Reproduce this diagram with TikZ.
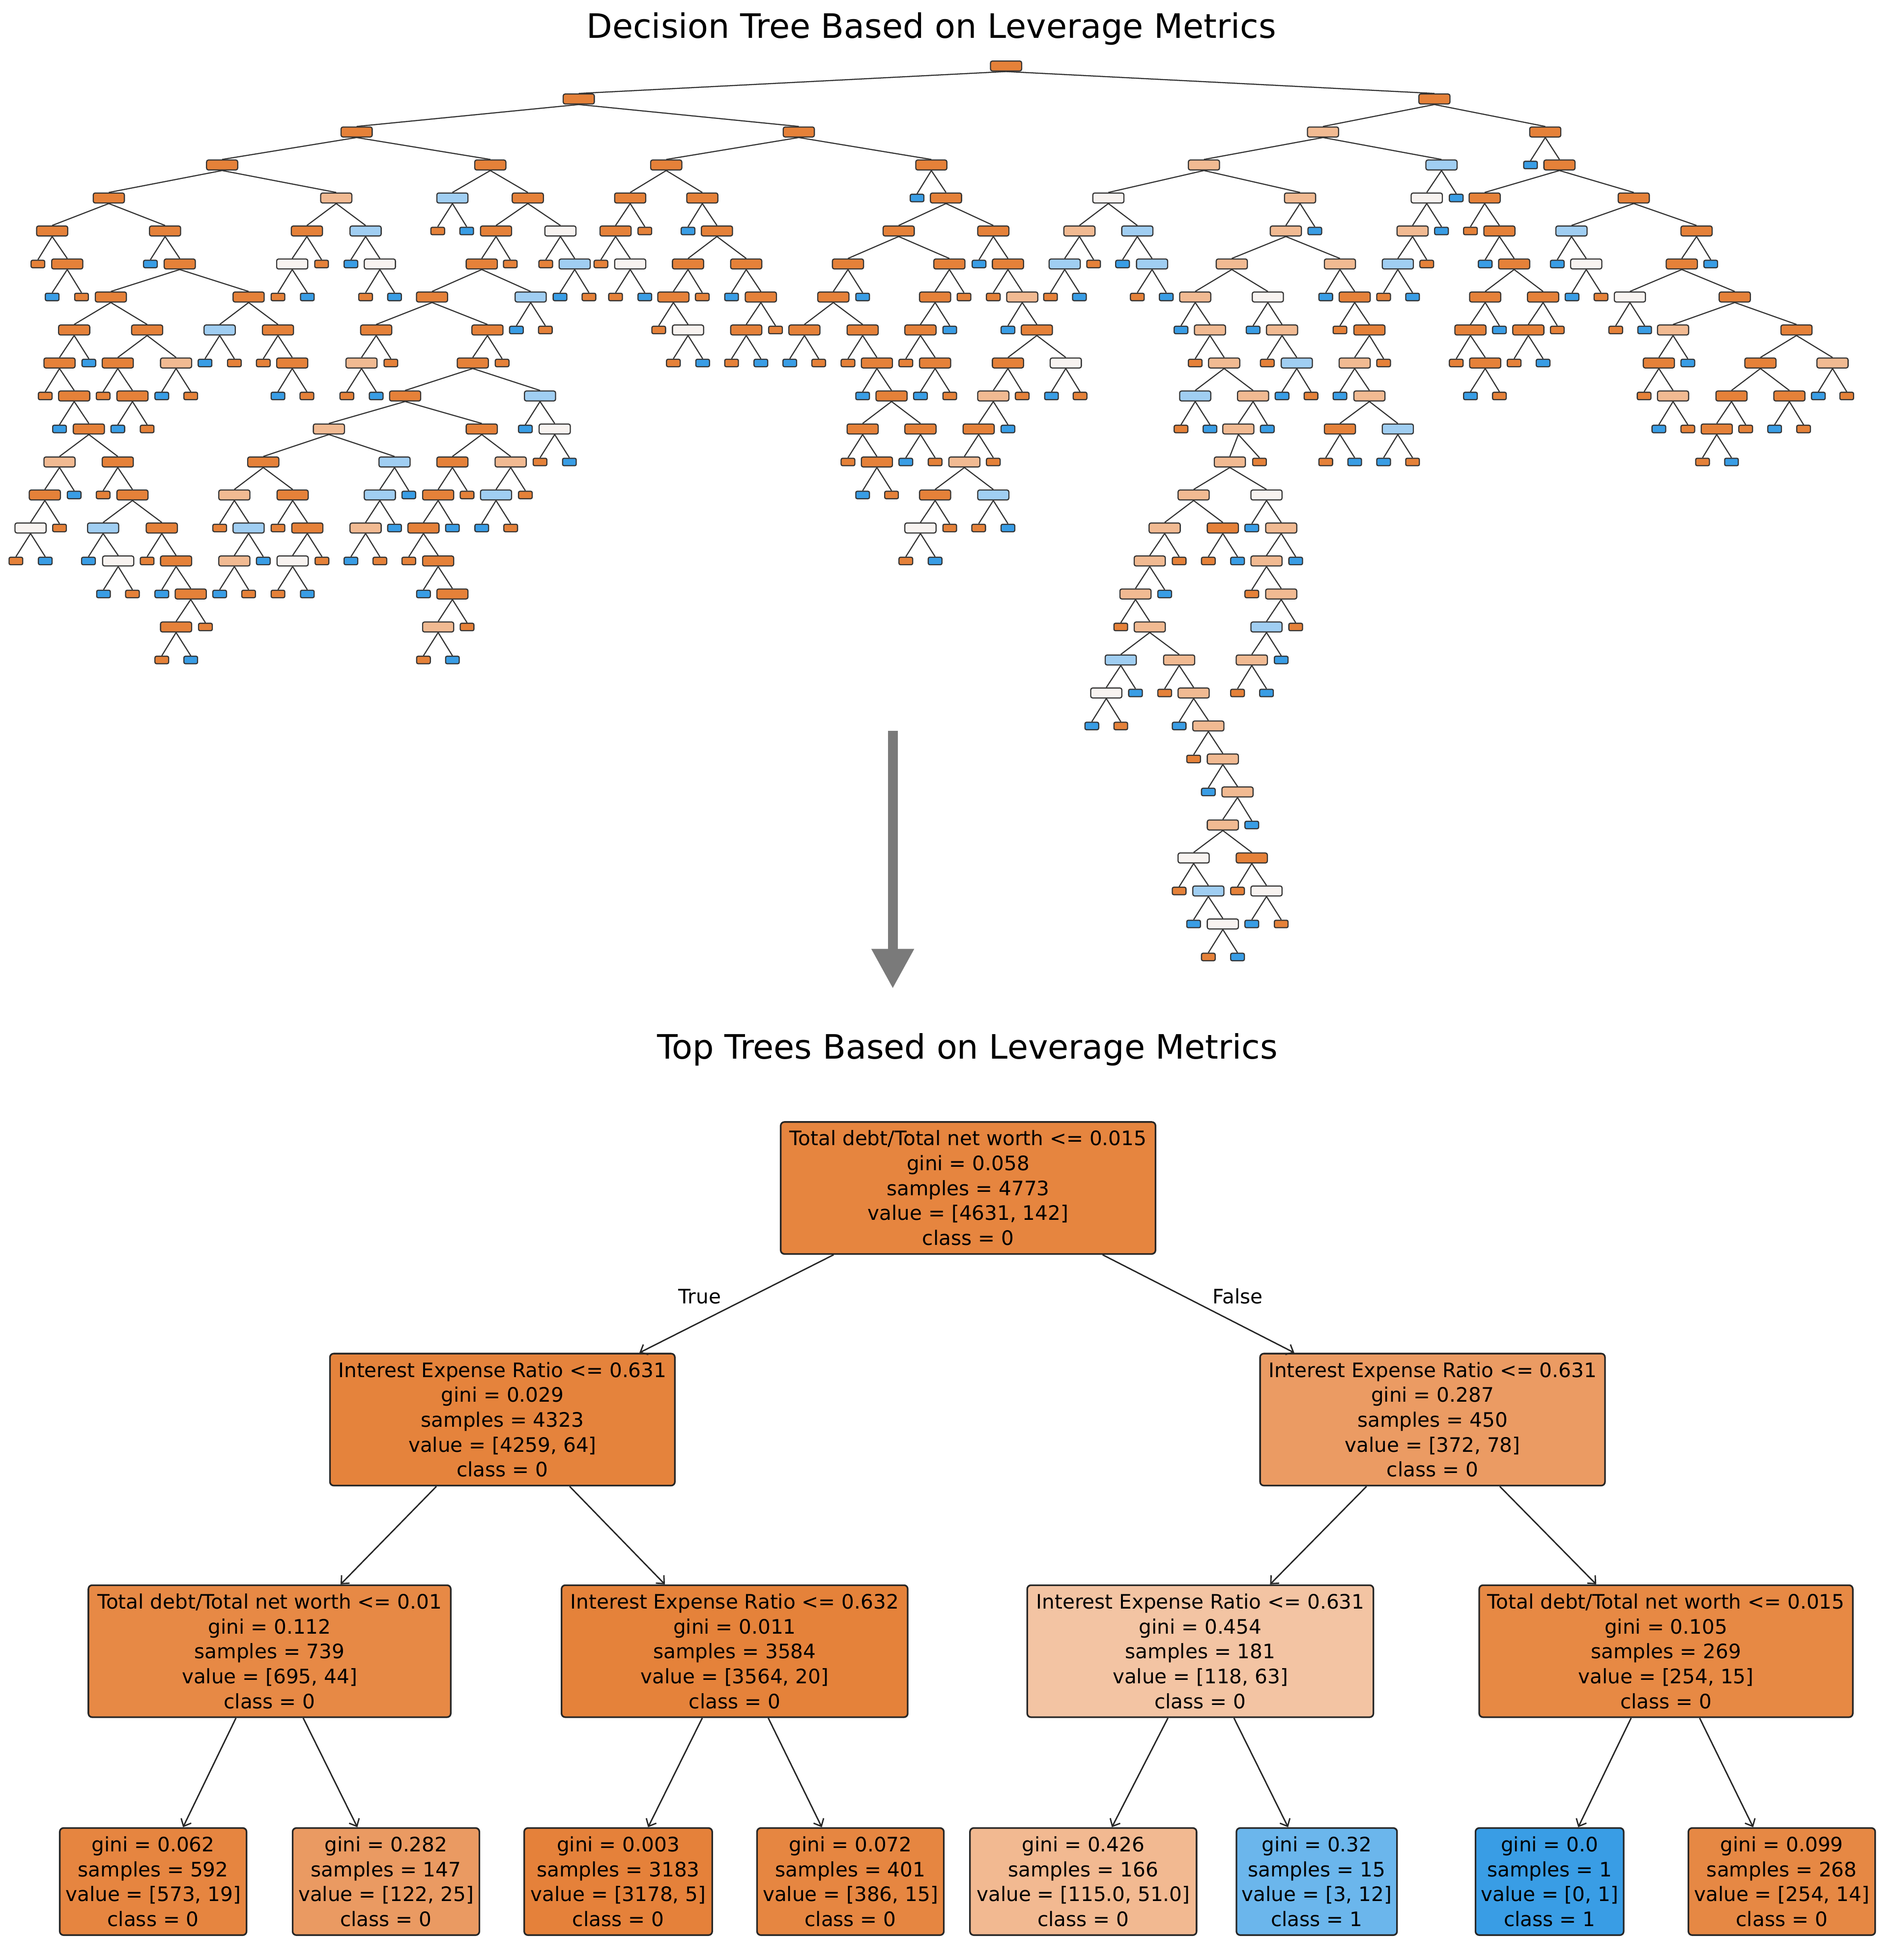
\documentclass[tikz,border=0pt]{standalone}
\usepackage{fontspec}
\setmainfont{DejaVu Sans}
\usetikzlibrary{arrows.meta}
\definecolor{tO}{RGB}{229,129,57}
\definecolor{tL}{RGB}{241,186,146}
\definecolor{tW}{RGB}{248,243,240}
\definecolor{tB}{RGB}{160,206,242}
\definecolor{tD}{RGB}{57,157,229}
\definecolor{cA}{RGB}{230,133,63}
\definecolor{cB}{RGB}{229,131,60}
\definecolor{cC}{RGB}{235,155,99}
\definecolor{cD}{RGB}{231,137,69}
\definecolor{cE}{RGB}{229,130,58}
\definecolor{cF}{RGB}{243,196,163}
\definecolor{cG}{RGB}{231,137,68}
\definecolor{cH}{RGB}{230,133,64}
\definecolor{cI}{RGB}{234,154,98}
\definecolor{cJ}{RGB}{229,129,58}
\definecolor{cK}{RGB}{230,134,65}
\definecolor{cM}{RGB}{242,185,145}
\definecolor{cN}{RGB}{107,182,236}
\definecolor{cP}{RGB}{57,157,229}
\definecolor{cQ}{RGB}{230,136,68}
\tikzset{
 i/.style={draw=black!80,line width=0.9pt,rounded corners=1.5pt,minimum width=25pt,minimum height=8pt,inner sep=0pt},
 l/.style={draw=black!80,line width=0.9pt,rounded corners=1.2pt,minimum width=11pt,minimum height=6pt,inner sep=0pt},
 te/.style={draw=black!80,line width=0.9pt},
 bn/.style={draw=black!85,line width=1.3pt,rounded corners=3pt,align=center,inner sep=0pt,font=\fontsize{16}{20}\selectfont},
 be/.style={draw=black!85,line width=1.1pt,-{Straight Barb[length=5pt,width=9pt]}},
 ttl/.style={font=\fontsize{27}{32}\selectfont},
 lab/.style={font=\fontsize{16}{18}\selectfont}
}
\newcommand\Za[5]{\node[#1,fill=t#5] (a#2x#3) at ({#3/3.055},{53+26.5*#2}) {};\draw[te] (#4.south) -- (a#2x#3.north);}
\newcommand\Zb[5]{\node[#1,fill=t#5] (b#2x#3) at ({463+(#3-103)/3.316},{53+26.5*#2}) {};\draw[te] (#4.south) -- (b#2x#3.north);}
\newcommand\Zc[5]{\node[#1,fill=t#5] (c#2x#3) at ({1152+(#3-745)/2.28},{53+26.5*#2}) {};\draw[te] (#4.south) -- (c#2x#3.north);}
\newcommand\Zd[5]{\node[#1,fill=t#5] (d#2x#3) at ({829.1+#3/5.674},{53+26.5*#2}) {};\draw[te] (#4.south) -- (d#2x#3.north);}
\begin{document}
\begin{tikzpicture}[x=1pt,y=-1pt]
\useasboundingbox (0,0) rectangle (1520,1574);
\node[ttl] (t1) at (748,23) {Decision Tree Based on Leverage Metrics};
\node[i,fill=tO] (root) at (808,53) {};
% zoom a
\Za{i}{1}{1420}{root}{O}
\Za{i}{2}{875}{a1x1420}{O}
\Za{i}{3}{545}{a2x875}{O}\Za{i}{3}{1203}{a2x875}{O}
\Za{i}{4}{267}{a3x545}{O}\Za{i}{4}{825}{a3x545}{L}\Za{i}{4}{1110}{a3x1203}{B}\Za{i}{4}{1295}{a3x1203}{O}
\Za{i}{5}{128}{a4x267}{O}\Za{i}{5}{405}{a4x267}{O}\Za{i}{5}{753}{a4x825}{O}\Za{i}{5}{897}{a4x825}{B}\Za{l}{5}{1074}{a4x1110}{O}\Za{l}{5}{1145}{a4x1110}{D}\Za{i}{5}{1217}{a4x1295}{O}\Za{i}{5}{1375}{a4x1295}{W}
\Za{l}{6}{93}{a5x128}{O}\Za{i}{6}{165}{a5x128}{O}\Za{l}{6}{369}{a5x405}{D}\Za{i}{6}{441}{a5x405}{O}\Za{i}{6}{717}{a5x753}{W}\Za{l}{6}{789}{a5x753}{O}\Za{l}{6}{861}{a5x897}{D}\Za{i}{6}{932}{a5x897}{W}\Za{i}{6}{1182}{a5x1217}{O}\Za{l}{6}{1252}{a5x1217}{O}\Za{l}{6}{1339}{a5x1375}{O}\Za{i}{6}{1410}{a5x1375}{B}
\Za{l}{7}{128}{a6x165}{D}\Za{l}{7}{200}{a6x165}{O}\Za{i}{7}{272}{a6x441}{O}\Za{i}{7}{610}{a6x441}{O}\Za{l}{7}{682}{a6x717}{O}\Za{l}{7}{754}{a6x717}{D}\Za{l}{7}{897}{a6x932}{O}\Za{l}{7}{968}{a6x932}{D}\Za{i}{7}{1060}{a6x1182}{O}\Za{i}{7}{1302}{a6x1182}{B}\Za{l}{7}{1374}{a6x1410}{D}\Za{l}{7}{1445}{a6x1410}{O}
\Za{i}{8}{182}{a7x272}{O}\Za{i}{8}{361}{a7x272}{O}\Za{i}{8}{539}{a7x610}{B}\Za{i}{8}{682}{a7x610}{O}\Za{i}{8}{923}{a7x1060}{O}\Za{i}{8}{1196}{a7x1060}{O}\Za{l}{8}{1267}{a7x1302}{D}\Za{l}{8}{1338}{a7x1302}{O}
\Za{i}{9}{146}{a8x182}{O}\Za{l}{9}{218}{a8x182}{D}\Za{i}{9}{289}{a8x361}{O}\Za{i}{9}{432}{a8x361}{L}\Za{l}{9}{503}{a8x539}{D}\Za{l}{9}{575}{a8x539}{O}\Za{l}{9}{646}{a8x682}{O}\Za{i}{9}{717}{a8x682}{O}\Za{i}{9}{887}{a8x923}{L}\Za{l}{9}{959}{a8x923}{O}\Za{i}{9}{1160}{a8x1196}{O}\Za{l}{9}{1232}{a8x1196}{O}
\Za{l}{10}{111}{a9x146}{O}\Za{i}{10}{182}{a9x146}{O}\Za{l}{10}{253}{a9x289}{O}\Za{i}{10}{325}{a9x289}{O}\Za{l}{10}{397}{a9x432}{D}\Za{l}{10}{468}{a9x432}{O}\Za{l}{10}{682}{a9x717}{D}\Za{l}{10}{753}{a9x717}{O}\Za{l}{10}{851}{a9x887}{O}\Za{l}{10}{923}{a9x887}{D}\Za{i}{10}{994}{a9x1160}{O}\Za{i}{10}{1325}{a9x1160}{B}
\Za{l}{11}{146}{a10x182}{D}\Za{i}{11}{218}{a10x182}{O}\Za{l}{11}{289}{a10x325}{D}\Za{l}{11}{361}{a10x325}{O}\Za{i}{11}{807}{a10x994}{L}\Za{i}{11}{1182}{a10x994}{O}\Za{l}{11}{1289}{a10x1325}{D}\Za{i}{11}{1361}{a10x1325}{W}
\Za{i}{12}{146}{a11x218}{L}\Za{i}{12}{289}{a11x218}{O}\Za{i}{12}{646}{a11x807}{O}\Za{i}{12}{968}{a11x807}{B}\Za{i}{12}{1110}{a11x1182}{O}\Za{i}{12}{1253}{a11x1182}{L}\Za{l}{12}{1325}{a11x1361}{O}\Za{l}{12}{1397}{a11x1361}{D}
\Za{i}{13}{110}{a12x146}{O}\Za{l}{13}{182}{a12x146}{D}\Za{l}{13}{253}{a12x289}{O}\Za{i}{13}{325}{a12x289}{O}\Za{i}{13}{575}{a12x646}{L}\Za{i}{13}{718}{a12x646}{O}\Za{i}{13}{932}{a12x968}{B}\Za{l}{13}{1003}{a12x968}{D}\Za{i}{13}{1075}{a12x1110}{O}\Za{l}{13}{1146}{a12x1110}{O}\Za{i}{13}{1217}{a12x1253}{B}\Za{l}{13}{1289}{a12x1253}{O}
\Za{i}{14}{75}{a13x110}{W}\Za{l}{14}{146}{a13x110}{O}\Za{i}{14}{253}{a13x325}{B}\Za{i}{14}{397}{a13x325}{O}\Za{l}{14}{539}{a13x575}{O}\Za{i}{14}{610}{a13x575}{B}\Za{l}{14}{682}{a13x718}{O}\Za{i}{14}{754}{a13x718}{O}\Za{i}{14}{897}{a13x932}{L}\Za{l}{14}{968}{a13x932}{D}\Za{i}{14}{1039}{a13x1075}{O}\Za{l}{14}{1110}{a13x1075}{D}\Za{l}{14}{1182}{a13x1217}{D}\Za{l}{14}{1253}{a13x1217}{O}
\Za{l}{15}{39}{a14x75}{O}\Za{l}{15}{111}{a14x75}{D}\Za{l}{15}{217}{a14x253}{D}\Za{i}{15}{290}{a14x253}{W}\Za{l}{15}{361}{a14x397}{O}\Za{i}{15}{432}{a14x397}{O}\Za{i}{15}{575}{a14x610}{L}\Za{l}{15}{646}{a14x610}{D}\Za{i}{15}{718}{a14x754}{W}\Za{l}{15}{790}{a14x754}{O}\Za{l}{15}{861}{a14x897}{D}\Za{l}{15}{932}{a14x897}{O}\Za{l}{15}{1003}{a14x1039}{O}\Za{i}{15}{1075}{a14x1039}{O}
\Za{l}{16}{254}{a15x290}{D}\Za{l}{16}{325}{a15x290}{O}\Za{l}{16}{397}{a15x432}{D}\Za{i}{16}{468}{a15x432}{O}\Za{l}{16}{539}{a15x575}{D}\Za{l}{16}{610}{a15x575}{O}\Za{l}{16}{682}{a15x718}{O}\Za{l}{16}{754}{a15x718}{D}\Za{l}{16}{1039}{a15x1075}{D}\Za{i}{16}{1110}{a15x1075}{O}
\Za{i}{17}{432}{a16x468}{O}\Za{l}{17}{504}{a16x468}{O}\Za{i}{17}{1075}{a16x1110}{L}\Za{l}{17}{1146}{a16x1110}{O}
\Za{l}{18}{397}{a17x432}{O}\Za{l}{18}{468}{a17x432}{D}\Za{l}{18}{1039}{a17x1075}{O}\Za{l}{18}{1110}{a17x1075}{D}
% zoom b
\Zb{i}{2}{695}{a1x1420}{O}
\Zb{i}{3}{342}{b2x695}{O}\Zb{i}{3}{1048}{b2x695}{O}
\Zb{i}{4}{246}{b3x342}{O}\Zb{i}{4}{438}{b3x342}{O}\Zb{l}{4}{1010}{b3x1048}{D}\Zb{i}{4}{1087}{b3x1048}{O}
\Zb{i}{5}{207}{b4x246}{O}\Zb{l}{5}{285}{b4x246}{O}\Zb{l}{5}{400}{b4x438}{D}\Zb{i}{5}{477}{b4x438}{O}\Zb{i}{5}{961}{b4x1087}{O}\Zb{i}{5}{1213}{b4x1087}{O}
\Zb{l}{6}{168}{b5x207}{O}\Zb{i}{6}{246}{b5x207}{W}\Zb{i}{6}{400}{b5x477}{O}\Zb{i}{6}{555}{b5x477}{O}\Zb{i}{6}{826}{b5x961}{O}\Zb{i}{6}{1096}{b5x961}{O}\Zb{l}{6}{1175}{b5x1213}{D}\Zb{i}{6}{1252}{b5x1213}{O}
\Zb{l}{7}{207}{b6x246}{O}\Zb{l}{7}{285}{b6x246}{D}\Zb{i}{7}{361}{b6x400}{O}\Zb{l}{7}{438}{b6x400}{O}\Zb{l}{7}{516}{b6x555}{D}\Zb{i}{7}{594}{b6x555}{O}\Zb{i}{7}{787}{b6x826}{O}\Zb{l}{7}{865}{b6x826}{D}\Zb{i}{7}{1058}{b6x1096}{O}\Zb{l}{7}{1135}{b6x1096}{O}\Zb{l}{7}{1213}{b6x1252}{O}\Zb{i}{7}{1290}{b6x1252}{L}
\Zb{l}{8}{322}{b7x361}{O}\Zb{i}{8}{400}{b7x361}{W}\Zb{i}{8}{555}{b7x594}{O}\Zb{l}{8}{633}{b7x594}{O}\Zb{i}{8}{710}{b7x787}{O}\Zb{i}{8}{865}{b7x787}{O}\Zb{i}{8}{1019}{b7x1058}{O}\Zb{l}{8}{1097}{b7x1058}{D}\Zb{l}{8}{1252}{b7x1290}{D}\Zb{i}{8}{1329}{b7x1290}{O}
\Zb{l}{9}{361}{b8x400}{O}\Zb{l}{9}{439}{b8x400}{D}\Zb{l}{9}{516}{b8x555}{O}\Zb{l}{9}{594}{b8x555}{D}\Zb{l}{9}{671}{b8x710}{D}\Zb{l}{9}{748}{b8x710}{O}\Zb{l}{9}{826}{b8x865}{O}\Zb{i}{9}{903}{b8x865}{O}\Zb{l}{9}{980}{b8x1019}{O}\Zb{i}{9}{1058}{b8x1019}{O}\Zb{i}{9}{1252}{b8x1329}{O}\Zb{i}{9}{1406}{b8x1329}{W}
\Zb{l}{10}{865}{b9x903}{D}\Zb{i}{10}{942}{b9x903}{O}\Zb{l}{10}{1019}{b9x1058}{D}\Zb{l}{10}{1097}{b9x1058}{O}\Zb{i}{10}{1213}{b9x1252}{L}\Zb{l}{10}{1290}{b9x1252}{O}\Zb{l}{10}{1368}{b9x1406}{D}\Zb{l}{10}{1444}{b9x1406}{O}
\Zb{i}{11}{865}{b10x942}{O}\Zb{i}{11}{1019}{b10x942}{O}\Zb{i}{11}{1174}{b10x1213}{O}\Zb{l}{11}{1252}{b10x1213}{D}
\Zb{l}{12}{826}{b11x865}{O}\Zb{i}{12}{903}{b11x865}{O}\Zb{l}{12}{980}{b11x1019}{D}\Zb{l}{12}{1058}{b11x1019}{O}\Zb{i}{12}{1136}{b11x1174}{L}\Zb{l}{12}{1213}{b11x1174}{O}
\Zb{l}{13}{865}{b12x903}{D}\Zb{l}{13}{942}{b12x903}{O}\Zb{i}{13}{1058}{b12x1136}{O}\Zb{i}{13}{1213}{b12x1136}{B}
\Zb{i}{14}{1019}{b13x1058}{W}\Zb{l}{14}{1097}{b13x1058}{O}\Zb{l}{14}{1174}{b13x1213}{O}\Zb{l}{14}{1252}{b13x1213}{D}
\Zb{l}{15}{980}{b14x1019}{O}\Zb{l}{15}{1058}{b14x1019}{D}
% zoom c
\Zc{i}{1}{745}{root}{O}
\Zc{i}{2}{541}{c1x745}{L}\Zc{i}{2}{948}{c1x745}{O}
\Zc{i}{3}{323}{c2x541}{L}\Zc{i}{3}{758}{c2x541}{B}\Zc{l}{3}{921}{c2x948}{D}\Zc{i}{3}{974}{c2x948}{O}
\Zc{i}{4}{148}{c3x323}{W}\Zc{i}{4}{499}{c3x323}{L}\Zc{i}{4}{731}{c3x758}{W}\Zc{l}{4}{785}{c3x758}{D}\Zc{i}{4}{837}{c3x974}{O}\Zc{i}{4}{1110}{c3x974}{O}
\Zc{i}{5}{95}{c4x148}{L}\Zc{i}{5}{201}{c4x148}{B}\Zc{i}{5}{473}{c4x499}{L}\Zc{l}{5}{526}{c4x499}{D}\Zc{i}{5}{705}{c4x731}{L}\Zc{l}{5}{758}{c4x731}{D}\Zc{l}{5}{811}{c4x837}{O}\Zc{i}{5}{864}{c4x837}{O}\Zc{i}{5}{996}{c4x1110}{B}\Zc{i}{5}{1225}{c4x1110}{O}
\Zc{i}{6}{68}{c5x95}{B}\Zc{l}{6}{121}{c5x95}{O}\Zc{l}{6}{174}{c5x201}{D}\Zc{i}{6}{228}{c5x201}{B}\Zc{i}{6}{374}{c5x473}{L}\Zc{i}{6}{572}{c5x473}{L}\Zc{i}{6}{678}{c5x705}{B}\Zc{l}{6}{731}{c5x705}{O}\Zc{l}{6}{838}{c5x864}{D}\Zc{i}{6}{891}{c5x864}{O}\Zc{l}{6}{970}{c5x996}{D}\Zc{i}{6}{1023}{c5x996}{W}\Zc{i}{6}{1198}{c5x1225}{O}\Zc{l}{6}{1251}{c5x1225}{D}
\Zc{l}{7}{42}{c6x68}{O}\Zc{l}{7}{95}{c6x68}{D}\Zc{l}{7}{201}{c6x228}{O}\Zc{l}{7}{254}{c6x228}{D}\Zc{i}{7}{307}{c6x374}{L}\Zc{i}{7}{440}{c6x374}{W}\Zc{l}{7}{546}{c6x572}{D}\Zc{i}{7}{599}{c6x572}{O}\Zc{l}{7}{652}{c6x678}{O}\Zc{l}{7}{705}{c6x678}{D}\Zc{i}{7}{838}{c6x891}{O}\Zc{i}{7}{944}{c6x891}{O}\Zc{l}{7}{997}{c6x1023}{D}\Zc{l}{7}{1050}{c6x1023}{O}\Zc{i}{7}{1103}{c6x1198}{W}\Zc{i}{7}{1295}{c6x1198}{O}
\Zc{l}{8}{281}{c7x307}{D}\Zc{i}{8}{334}{c7x307}{L}\Zc{l}{8}{413}{c7x440}{D}\Zc{i}{8}{466}{c7x440}{L}\Zc{l}{8}{572}{c7x599}{O}\Zc{i}{8}{626}{c7x599}{O}\Zc{i}{8}{811}{c7x838}{O}\Zc{l}{8}{864}{c7x838}{D}\Zc{i}{8}{917}{c7x944}{O}\Zc{l}{8}{970}{c7x944}{O}\Zc{l}{8}{1077}{c7x1103}{O}\Zc{l}{8}{1130}{c7x1103}{D}\Zc{i}{8}{1182}{c7x1295}{L}\Zc{i}{8}{1408}{c7x1295}{O}
\Zc{l}{9}{307}{c8x334}{O}\Zc{i}{9}{360}{c8x334}{L}\Zc{l}{9}{439}{c8x466}{O}\Zc{i}{9}{493}{c8x466}{B}\Zc{i}{9}{599}{c8x626}{L}\Zc{l}{9}{652}{c8x626}{O}\Zc{l}{9}{785}{c8x811}{O}\Zc{i}{9}{838}{c8x811}{O}\Zc{l}{9}{891}{c8x917}{O}\Zc{l}{9}{944}{c8x917}{D}\Zc{i}{9}{1156}{c8x1182}{O}\Zc{l}{9}{1209}{c8x1182}{D}\Zc{i}{9}{1342}{c8x1408}{O}\Zc{i}{9}{1474}{c8x1408}{L}
\Zc{i}{10}{307}{c9x360}{B}\Zc{i}{10}{413}{c9x360}{L}\Zc{l}{10}{466}{c9x493}{D}\Zc{l}{10}{519}{c9x493}{O}\Zc{l}{10}{572}{c9x599}{D}\Zc{i}{10}{626}{c9x599}{L}\Zc{l}{10}{811}{c9x838}{D}\Zc{l}{10}{864}{c9x838}{O}\Zc{l}{10}{1129}{c9x1156}{O}\Zc{i}{10}{1182}{c9x1156}{L}\Zc{i}{10}{1289}{c9x1342}{O}\Zc{i}{10}{1395}{c9x1342}{O}\Zc{l}{10}{1448}{c9x1474}{D}\Zc{l}{10}{1500}{c9x1474}{O}
\Zc{l}{11}{281}{c10x307}{O}\Zc{l}{11}{334}{c10x307}{D}\Zc{i}{11}{386}{c10x413}{L}\Zc{l}{11}{439}{c10x413}{D}\Zc{i}{11}{572}{c10x626}{O}\Zc{i}{11}{678}{c10x626}{B}\Zc{l}{11}{1156}{c10x1182}{D}\Zc{l}{11}{1209}{c10x1182}{O}\Zc{i}{11}{1262}{c10x1289}{O}\Zc{l}{11}{1315}{c10x1289}{O}\Zc{l}{11}{1368}{c10x1395}{D}\Zc{l}{11}{1421}{c10x1395}{O}
\Zc{l}{12}{546}{c11x572}{O}\Zc{l}{12}{599}{c11x572}{D}\Zc{l}{12}{652}{c11x678}{D}\Zc{l}{12}{705}{c11x678}{O}\Zc{l}{12}{1236}{c11x1262}{O}\Zc{l}{12}{1289}{c11x1262}{D}
% zoom d
\Zd{i}{12}{900}{c11x386}{L}\Zd{l}{12}{1035}{c11x386}{O}
\Zd{i}{13}{735}{d12x900}{L}\Zd{i}{13}{1067}{d12x900}{W}
\Zd{i}{14}{603}{d13x735}{L}\Zd{i}{14}{868}{d13x735}{O}\Zd{l}{14}{1000}{d13x1067}{D}\Zd{i}{14}{1134}{d13x1067}{L}
\Zd{i}{15}{535}{d14x603}{L}\Zd{l}{15}{669}{d14x603}{O}\Zd{l}{15}{802}{d14x868}{O}\Zd{l}{15}{935}{d14x868}{D}\Zd{i}{15}{1067}{d14x1134}{L}\Zd{l}{15}{1200}{d14x1134}{D}
\Zd{i}{16}{470}{d15x535}{L}\Zd{l}{16}{603}{d15x535}{D}\Zd{l}{16}{1000}{d15x1067}{O}\Zd{i}{16}{1134}{d15x1067}{L}
\Zd{l}{17}{403}{d16x470}{O}\Zd{i}{17}{535}{d16x470}{L}\Zd{i}{17}{1067}{d16x1134}{B}\Zd{l}{17}{1200}{d16x1134}{O}
\Zd{i}{18}{403}{d17x535}{B}\Zd{i}{18}{669}{d17x535}{L}\Zd{i}{18}{1000}{d17x1067}{L}\Zd{l}{18}{1134}{d17x1067}{D}
\Zd{i}{19}{337}{d18x403}{W}\Zd{l}{19}{470}{d18x403}{D}\Zd{l}{19}{603}{d18x669}{O}\Zd{i}{19}{735}{d18x669}{L}\Zd{l}{19}{935}{d18x1000}{O}\Zd{l}{19}{1067}{d18x1000}{D}
\Zd{l}{20}{271}{d19x337}{D}\Zd{l}{20}{403}{d19x337}{O}\Zd{l}{20}{669}{d19x735}{D}\Zd{i}{20}{802}{d19x735}{L}
\Zd{l}{21}{735}{d20x802}{O}\Zd{i}{21}{868}{d20x802}{L}
\Zd{l}{22}{802}{d21x868}{D}\Zd{i}{22}{935}{d21x868}{L}
\Zd{i}{23}{868}{d22x935}{L}\Zd{l}{23}{1000}{d22x935}{D}
\Zd{i}{24}{735}{d23x868}{W}\Zd{i}{24}{1000}{d23x868}{O}
\Zd{l}{25}{669}{d24x735}{O}\Zd{i}{25}{802}{d24x735}{B}\Zd{l}{25}{935}{d24x1000}{O}\Zd{i}{25}{1067}{d24x1000}{W}
\Zd{l}{26}{735}{d25x802}{D}\Zd{i}{26}{868}{d25x802}{W}\Zd{l}{26}{1000}{d25x1067}{D}\Zd{l}{26}{1134}{d25x1067}{O}
\Zd{l}{27}{802}{d26x868}{O}\Zd{l}{27}{935}{d26x868}{D}
% big arrow
\coordinate (as) at (717,587);
\coordinate (ae) at (717,794);
\draw[line width=8pt,color=black!52,-{Triangle[length=32pt,width=32pt]}] (as) -- (ae);
\node[ttl] (t2) at (777,843) {Top Trees Based on Leverage Metrics};
% bottom tree
\node[bn,fill=cA,minimum width=301,minimum height=106] (n0) at (777.5,954) {Total debt/Total net worth <= 0.015\\gini = 0.058\\samples = 4773\\value = [4631, 142]\\class = 0};
\node[bn,fill=cB,minimum width=277,minimum height=106] (n1) at (403.5,1140) {Interest Expense Ratio <= 0.631\\gini = 0.029\\samples = 4323\\value = [4259, 64]\\class = 0};
\node[bn,fill=cC,minimum width=277,minimum height=106] (n2) at (1150.5,1140) {Interest Expense Ratio <= 0.631\\gini = 0.287\\samples = 450\\value = [372, 78]\\class = 0};
\node[bn,fill=cD,minimum width=291,minimum height=106] (n3) at (216.5,1326) {Total debt/Total net worth <= 0.01\\gini = 0.112\\samples = 739\\value = [695, 44]\\class = 0};
\node[bn,fill=cE,minimum width=278,minimum height=106] (n4) at (590,1326) {Interest Expense Ratio <= 0.632\\gini = 0.011\\samples = 3584\\value = [3564, 20]\\class = 0};
\node[bn,fill=cF,minimum width=278,minimum height=106] (n5) at (964,1326) {Interest Expense Ratio <= 0.631\\gini = 0.454\\samples = 181\\value = [118, 63]\\class = 0};
\node[bn,fill=cG,minimum width=300,minimum height=106] (n6) at (1338,1326) {Total debt/Total net worth <= 0.015\\gini = 0.105\\samples = 269\\value = [254, 15]\\class = 0};
\node[bn,fill=cH,minimum width=150,minimum height=86] (m1) at (123,1511) {gini = 0.062\\samples = 592\\value = [573, 19]\\class = 0};
\node[bn,fill=cI,minimum width=150,minimum height=86] (m2) at (310,1511) {gini = 0.282\\samples = 147\\value = [122, 25]\\class = 0};
\node[bn,fill=cJ,minimum width=151,minimum height=86] (m3) at (496.5,1511) {gini = 0.003\\samples = 3183\\value = [3178, 5]\\class = 0};
\node[bn,fill=cK,minimum width=150,minimum height=86] (m4) at (683,1511) {gini = 0.072\\samples = 401\\value = [386, 15]\\class = 0};
\node[bn,fill=cM,minimum width=182,minimum height=86] (m5) at (870,1511) {gini = 0.426\\samples = 166\\value = [115.0, 51.0]\\class = 0};
\node[bn,fill=cN,minimum width=129,minimum height=86] (m6) at (1057.5,1511) {gini = 0.32\\samples = 15\\value = [3, 12]\\class = 1};
\node[bn,fill=cP,minimum width=119,minimum height=86] (m7) at (1244.5,1511) {gini = 0.0\\samples = 1\\value = [0, 1]\\class = 1};
\node[bn,fill=cQ,minimum width=150,minimum height=86] (m8) at (1431,1511) {gini = 0.099\\samples = 268\\value = [254, 14]\\class = 0};
\draw[be] ([xshift=-108pt]n0.south) -- ([xshift=110pt]n1.north);
\draw[be] ([xshift=108pt]n0.south) -- ([xshift=-111pt]n2.north);
\draw[be] ([xshift=-53pt]n1.south) -- ([xshift=57pt]n3.north);
\draw[be] ([xshift=54pt]n1.south) -- ([xshift=-56pt]n4.north);
\draw[be] ([xshift=-53pt]n2.south) -- ([xshift=56pt]n5.north);
\draw[be] ([xshift=54pt]n2.south) -- ([xshift=-56pt]n6.north);
\draw[be] ([xshift=-27pt]n3.south) -- ([xshift=24pt]m1.north);
\draw[be] ([xshift=27pt]n3.south) -- ([xshift=-23pt]m2.north);
\draw[be] ([xshift=-26pt]n4.south) -- ([xshift=24pt]m3.north);
\draw[be] ([xshift=27pt]n4.south) -- ([xshift=-23pt]m4.north);
\draw[be] ([xshift=-26pt]n5.south) -- ([xshift=23pt]m5.north);
\draw[be] ([xshift=27pt]n5.south) -- ([xshift=-23pt]m6.north);
\draw[be] ([xshift=-28pt]n6.south) -- ([xshift=23pt]m7.north);
\draw[be] ([xshift=27pt]n6.south) -- ([xshift=-23pt]m8.north);
\node[lab] (lt) at (562,1041) {True};
\node[lab] (lf) at (994,1041) {False};
\end{tikzpicture}
\end{document}
